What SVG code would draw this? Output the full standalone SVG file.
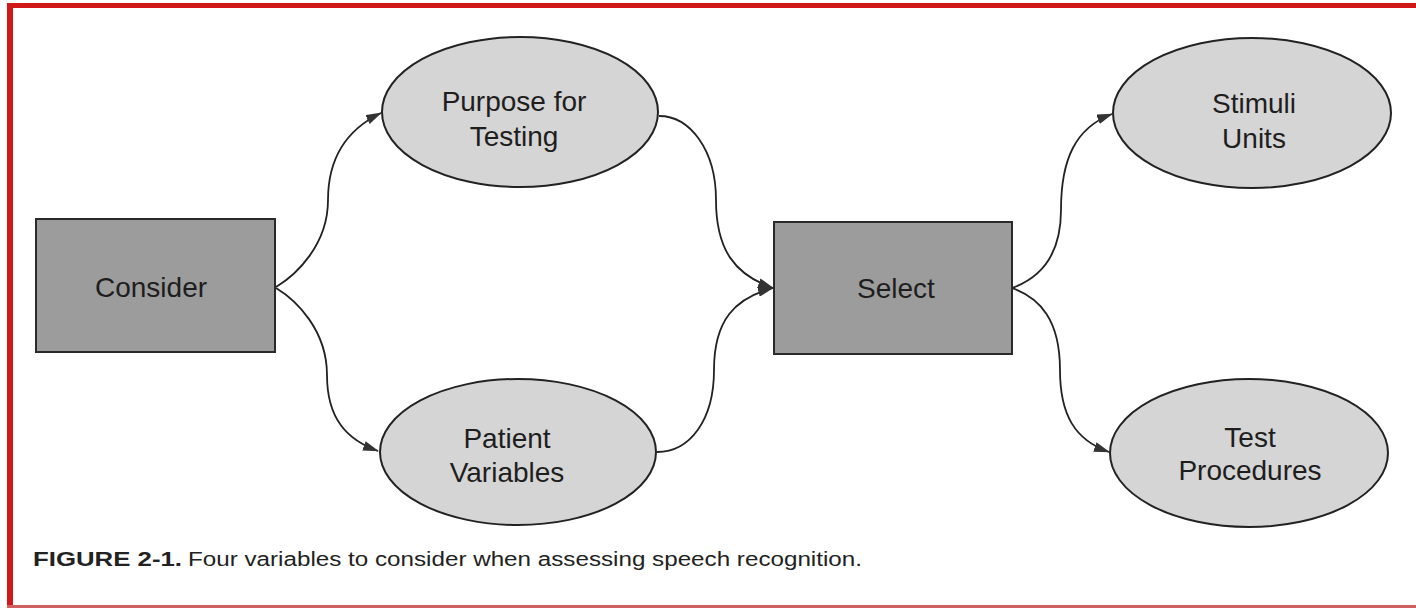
<svg xmlns="http://www.w3.org/2000/svg" width="1416" height="608" viewBox="0 0 1416 608">
<style>
.box{fill:#9c9c9c;stroke:#2a2a2a;stroke-width:2}
.ell{fill:#d5d5d5;stroke:#222;stroke-width:2}
.lbl{font-family:"Liberation Sans",Arial,sans-serif;font-size:28px;fill:#1e1e1e;text-anchor:middle}
.con{fill:none;stroke:#222;stroke-width:1.8}
.cap{font-family:"Liberation Sans",Arial,sans-serif;font-size:20px;fill:#222}
</style>
<defs>
<marker id="arr" viewBox="0 0 16 10" refX="15" refY="5" markerWidth="16" markerHeight="10" markerUnits="userSpaceOnUse" orient="auto">
<path d="M0,0 L16,5 L0,10 z" fill="#333"/>
</marker>
</defs>
<rect x="0" y="0" width="1416" height="608" fill="#ffffff"/>
<g id="frame">
<rect x="7" y="3" width="1409" height="5" fill="#d01818"/>
<rect x="7" y="3" width="6" height="605" fill="#d01818"/>
<rect x="7" y="605" width="1409" height="3" fill="#d06060"/>
</g>
<g id="connectors">
<path class="con" d="M276,287 C296,275 328,245 328,200 C328,155 350,128 381,113" marker-end="url(#arr)"/>
<path class="con" d="M276,288 C296,300 327,330 327,375 C327,420 348,440 378,451" marker-end="url(#arr)"/>
<path class="con" d="M659,116 C690,116 716,150 716,200 C716,250 735,275 773,288" marker-end="url(#arr)"/>
<path class="con" d="M657,452 C690,452 714,420 714,370 C714,320 735,298 773,288" marker-end="url(#arr)"/>
<path class="con" d="M1012,288 C1040,278 1061,255 1061,210 C1061,160 1075,128 1112,114" marker-end="url(#arr)"/>
<path class="con" d="M1012,288 C1040,298 1060,320 1060,370 C1060,415 1075,440 1109,452" marker-end="url(#arr)"/>
</g>
<g id="consider">
<rect class="box" x="36" y="219" width="239" height="133"/>
<text class="lbl" x="151" y="297">Consider</text>
</g>
<g id="purpose">
<ellipse class="ell" cx="520" cy="112" rx="138" ry="75"/>
<text class="lbl" x="514" y="111">Purpose for</text>
<text class="lbl" x="514" y="146">Testing</text>
</g>
<g id="patient">
<ellipse class="ell" cx="518" cy="452" rx="138" ry="73"/>
<text class="lbl" x="507" y="448">Patient</text>
<text class="lbl" x="507" y="482">Variables</text>
</g>
<g id="select">
<rect class="box" x="774" y="222" width="238" height="132"/>
<text class="lbl" x="896" y="298">Select</text>
</g>
<g id="stimuli">
<ellipse class="ell" cx="1252" cy="113" rx="139" ry="75"/>
<text class="lbl" x="1254" y="113">Stimuli</text>
<text class="lbl" x="1254" y="148">Units</text>
</g>
<g id="test">
<ellipse class="ell" cx="1249" cy="453" rx="139" ry="74"/>
<text class="lbl" x="1250" y="447">Test</text>
<text class="lbl" x="1250" y="480">Procedures</text>
</g>
<g id="caption">
<text class="cap" x="33" y="566" font-weight="bold" textLength="149" lengthAdjust="spacingAndGlyphs">FIGURE 2-1.</text>
<text class="cap" x="188" y="566" textLength="674" lengthAdjust="spacingAndGlyphs">Four variables to consider when assessing speech recognition.</text>
</g>
</svg>
